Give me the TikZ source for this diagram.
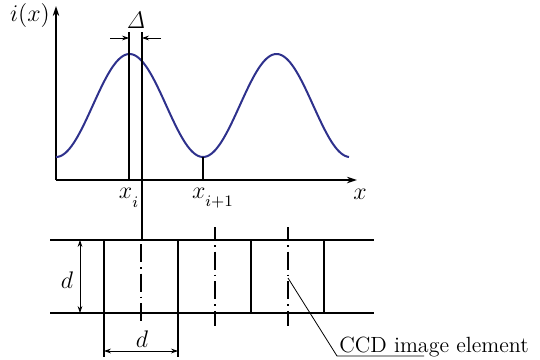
\documentclass[tikz,border=0pt]{standalone}
\usetikzlibrary{arrows.meta}
\definecolor{curveblue}{RGB}{46,49,140}
\begin{document}
\begin{tikzpicture}[x=0.5pt,y=-0.5pt,
  axisline/.style={line width=0.9pt,-{Stealth[length=5pt,width=3.2pt]}},
  heavy/.style={line width=0.9pt},
  thinline/.style={line width=0.4pt},
  dimarrow/.style={line width=0.4pt,{Stealth[length=3.5pt,width=2.4pt]}-{Stealth[length=3.5pt,width=2.4pt]}},
  onearrow/.style={line width=0.4pt,-{Stealth[length=3.5pt,width=2.4pt]}},
  centerline/.style={line width=0.9pt,dash pattern=on 9pt off 2.5pt on 0.8pt off 2.5pt},
  curvestyle/.style={line width=1pt,draw=curveblue},
  lbl/.style={inner sep=0pt,font=\fontsize{11.5}{13}\selectfont}]
\useasboundingbox (0,0) rectangle (540,359);

% axes
\coordinate (O) at (56,180);
\coordinate (Ytop) at (56,6);
\coordinate (Xend) at (357,180);
\draw[axisline] (O) -- (Ytop);
\draw[axisline] (O) -- (Xend);
\node[lbl] (ilabel) at (30,15) {$i(x)$};
\node[lbl] (xlabel) at (360,194) {$x$};

% curve
\draw[curvestyle] plot[domain=56:349,samples=150,smooth] (\x,{105.5+51.5*cos((\x-56)*2.44898)});

% vertical marker lines
\coordinate (xiTop) at (129,32);
\coordinate (xiBot) at (129,180);
\coordinate (sTop) at (142,32);
\coordinate (sBot) at (142,240);
\coordinate (xjTop) at (203,157);
\coordinate (xjBot) at (203,180);
\draw[heavy] (xiTop) -- (xiBot);
\draw[heavy] (sTop) -- (sBot);
\draw[heavy] (xjTop) -- (xjBot);

% Delta dimension
\coordinate (dLa) at (110,38);
\coordinate (dLb) at (129,38);
\coordinate (dRa) at (161,38);
\coordinate (dRb) at (142,38);
\draw[onearrow] (dLa) -- (dLb);
\draw[onearrow] (dRa) -- (dRb);
\node[lbl] (delta) at (136,20) {$\mathit{\Delta}$};

\node[lbl] (xi) at (129,198) {$x_{\lower2.5pt\hbox{$\scriptstyle i$}}$};
\node[lbl] (xj) at (213,198) {$x_{\lower2.5pt\hbox{$\scriptstyle i+1$}}$};

% CCD band
\coordinate (TL) at (50,240);
\coordinate (TR) at (374,240);
\coordinate (BL) at (50,313);
\coordinate (BR) at (374,313);
\draw[heavy] (TL) -- (TR);
\draw[heavy] (BL) -- (BR);
\foreach \name/\xx in {va/104,vb/178,vc/251,vd/324}{
  \coordinate (\name t) at (\xx,240);
  \coordinate (\name b) at (\xx,313);
  \draw[heavy] (\name t) -- (\name b);
}
% extension lines
\coordinate (vae) at (104,357);
\coordinate (vbe) at (178,357);
\draw[heavy] (vab) -- (vae);
\draw[heavy] (vbb) -- (vbe);

% centre lines
\coordinate (c1t) at (141,240);
\coordinate (c1b) at (141,326);
\coordinate (c2t) at (215,227);
\coordinate (c2b) at (215,326);
\coordinate (c3t) at (288,227);
\coordinate (c3b) at (288,326);
\draw[centerline,dash phase=-2pt] (c1t) -- (c1b);
\draw[centerline,dash phase=2.5pt] (c2t) -- (c2b);
\draw[centerline,dash phase=2.5pt] (c3t) -- (c3b);

% d dimensions
\coordinate (dvT) at (80,240);
\coordinate (dvB) at (80,313);
\draw[dimarrow] (dvT) -- (dvB);
\node[lbl] (dleft) at (67,280) {$d$};
\coordinate (dhL) at (104,351);
\coordinate (dhR) at (178,351);
\draw[dimarrow] (dhL) -- (dhR);
\node[lbl] (dbottom) at (142,339) {$d$};

% CCD label
\coordinate (ldA) at (288,278);
\coordinate (ldB) at (337,356);
\coordinate (ldC) at (424,356);
\draw[thinline] (ldA) -- (ldB) -- (ldC);
\node[lbl,font=\fontsize{11}{13}\selectfont,anchor=base] (ccd) at (434,352) {CCD image element};
\end{tikzpicture}
\end{document}
